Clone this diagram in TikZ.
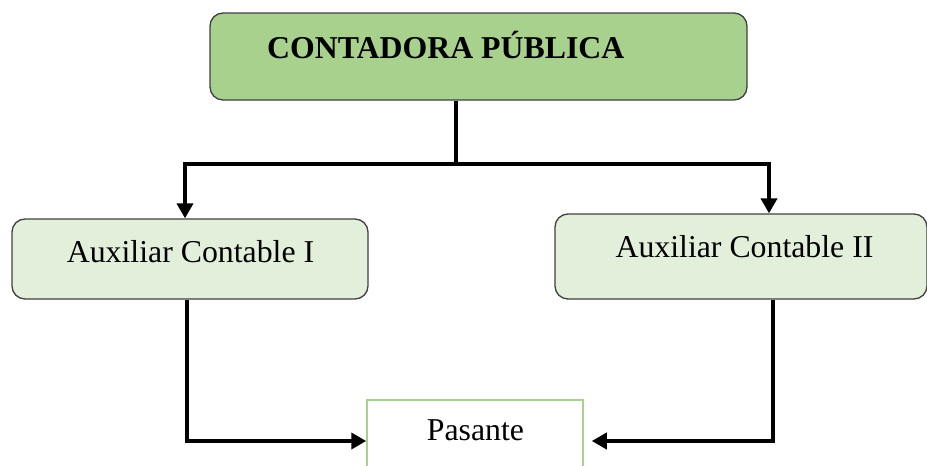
\documentclass[tikz,border=0pt]{standalone}
\usepackage{fontspec}
\setmainfont{Liberation Serif}
\usetikzlibrary{arrows.meta,calc}
\definecolor{jefe}{HTML}{A9D18E}
\definecolor{auxil}{HTML}{E2EFDA}
\definecolor{borde}{HTML}{404040}
\tikzset{
  jefebox/.style={draw=borde,line width=1.3pt,fill=jefe,rounded corners=13pt,inner sep=0pt},
  auxbox/.style={draw=borde,line width=1.3pt,fill=auxil,rounded corners=13pt,inner sep=0pt},
  pasbox/.style={draw=jefe,line width=1.5pt,fill=white,inner sep=0pt},
  txt/.style={anchor=base,inner sep=0pt,font=\fontsize{31.8}{38}\selectfont},
  wire/.style={line width=3.8pt},
  flecha/.style={line width=3.8pt,-{Triangle[length=15pt,width=16pt]}}
}
\begin{document}
\begin{tikzpicture}[x=1pt,y=-1pt]
      \useasboundingbox (0,0) rectangle (927,466);
      \clip (0,0) rectangle (927,466);
      \node[jefebox,minimum width=537pt,minimum height=87pt] (conta) at (478.5,56.5) {}; % contadora
      \node[txt,anchor=base west,font=\fontsize{31.8}{38}\selectfont\bfseries] (tconta) at (267,58) {CONTADORA PÚBLICA};
      \node[auxbox,minimum width=356pt,minimum height=80pt] (auxi) at (190,259) {}; % auxiliar I
      \node[txt] (tauxi) at (190.5,262) {Auxiliar Contable I};
      \node[auxbox,minimum width=372pt,minimum height=85pt] (auxii) at (741,256.5) {}; % auxiliar II
      \node[txt] (tauxii) at (744.5,257) {Auxiliar Contable II};
      \node[pasbox,minimum width=216pt,minimum height=80pt] (pas) at (475,440) {}; % pasante
      \node[txt] (tpas) at (475.5,440) {Pasante};
      \coordinate (split) at (456,164);
      \draw[wire] (conta.south -| split) -- (split); % bajada
      \draw[flecha] (split) -| ([xshift=-5pt]auxi.north); % a auxiliar I
      \draw[flecha] (split) -| ([xshift=28pt]auxii.north); % a auxiliar II
      \draw[flecha] ([xshift=-3pt]auxi.south) |- ([yshift=-1pt]pas.west); % I a pasante
      \draw[flecha] ([xshift=32pt]auxii.south) |- ([xshift=8pt,yshift=-1pt]pas.east); % II a pasante
\end{tikzpicture}
\end{document}
